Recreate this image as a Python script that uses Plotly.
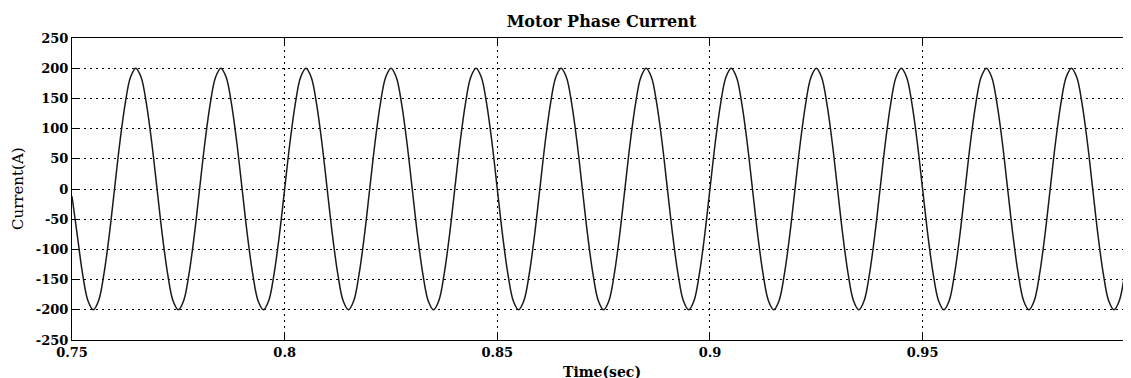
import plotly.graph_objects as go

# Sampling of the trace (start time and step between read samples, seconds)
t_start = 0.75
t_step = 0.00125

# Current values (A), one per sample
current = [
    -12, -77, -141, -185, -200, -185, -141, -77, 0, 77, 141, 185, 200, 185, 141, 77,
    0, -77, -141, -185, -200, -185, -141, -77, 0, 77, 141, 185, 200, 185, 141, 77,
    0, -77, -141, -185, -200, -185, -141, -77, 0, 77, 141, 185, 200, 185, 141, 77,
    0, -77, -141, -185, -200, -185, -141, -77, 0, 77, 141, 185, 200, 185, 141, 77,
    0, -77, -141, -185, -200, -185, -141, -77, 0, 77, 141, 185, 200, 185, 141, 77,
    0, -77, -141, -185, -200, -185, -141, -77, 0, 77, 141, 185, 200, 185, 141, 77,
    0, -77, -141, -185, -200, -185, -141, -77, 0, 77, 141, 185, 200, 185, 141, 77,
    0, -77, -141, -185, -200, -185, -141, -77, 0, 77, 141, 185, 200, 185, 141, 77,
    0, -77, -141, -185, -200, -185, -141, -77, 0, 77, 141, 185, 200, 185, 141, 77,
    0, -77, -141, -185, -200, -185, -141, -77, 0, 77, 141, 185, 200, 185, 141, 77,
    0, -77, -141, -185, -200, -185, -141, -77, 0, 77, 141, 185, 200, 185, 141, 77,
    0, -77, -141, -185, -200, -185, -141, -77, 0, 77, 141, 185, 200, 185, 141, 77,
    0, -77, -141, -185, -200, -185, -141, -77, 0,
]
time = [round(t_start + i * t_step, 6) for i in range(len(current))]

x_ticks = [0.75, 0.8, 0.85, 0.9, 0.95]
x_tick_labels = ["0.75", "0.8", "0.85", "0.9", "0.95"]
y_ticks = [250, 200, 150, 100, 50, 0, -50, -100, -150, -200, -250]

title_text = "Motor Phase Current"
x_title = "Time(sec)"
y_title = "Current(A)"

serif = "DejaVu Serif, Liberation Serif, serif"

fig = go.Figure()
fig.add_trace(go.Scatter(
    x=time, y=current, mode="lines",
    line=dict(color="#1a1a1a", width=1.5, shape="spline", smoothing=1.0),
    hoverinfo="skip", showlegend=False,
))

fig.update_layout(
    width=1131, height=378,
    margin=dict(l=64, r=8, t=30, b=46),
    paper_bgcolor="white", plot_bgcolor="white",
    title=dict(text=f"<b>{title_text}</b>", x=0.5, xref="paper", xanchor="center",
               y=1 - 13 / 378, yref="container", yanchor="middle",
               font=dict(family=serif, size=16, color="black")),
    font=dict(family=serif, color="black"),
    annotations=[
        dict(text=f"<b>{x_title}</b>", xref="paper", yref="paper", x=0.5, y=0,
             xanchor="center", yanchor="middle", yshift=-32, showarrow=False,
             font=dict(family=serif, size=14, color="black")),
        dict(text=y_title, xref="paper", yref="paper", x=0, y=0.5,
             xanchor="center", yanchor="middle", xshift=-54, textangle=-90,
             showarrow=False, font=dict(family=serif, size=15, color="black")),
    ],
)

fig.update_xaxes(
    range=[0.75, 0.999], tickvals=x_ticks,
    ticktext=[f"<b>{s}</b>" for s in x_tick_labels],
    tickfont=dict(family=serif, size=13, color="black"),
    ticks="inside", ticklen=6, tickcolor="black",
    showline=True, linecolor="black", linewidth=1, mirror="ticks",
    showgrid=True, gridcolor="black", gridwidth=1, griddash="2px,4px",
    zeroline=False, automargin=False,
)
fig.update_yaxes(
    range=[-250, 250], tickvals=y_ticks,
    ticktext=[f"<b>{v}</b>" for v in y_ticks],
    tickfont=dict(family=serif, size=13, color="black"),
    ticks="inside", ticklen=6, tickcolor="black",
    showline=True, linecolor="black", linewidth=1, mirror="ticks",
    showgrid=True, gridcolor="black", gridwidth=1, griddash="2px,4px",
    zeroline=False, automargin=False,
)

fig.write_html("out.html")
